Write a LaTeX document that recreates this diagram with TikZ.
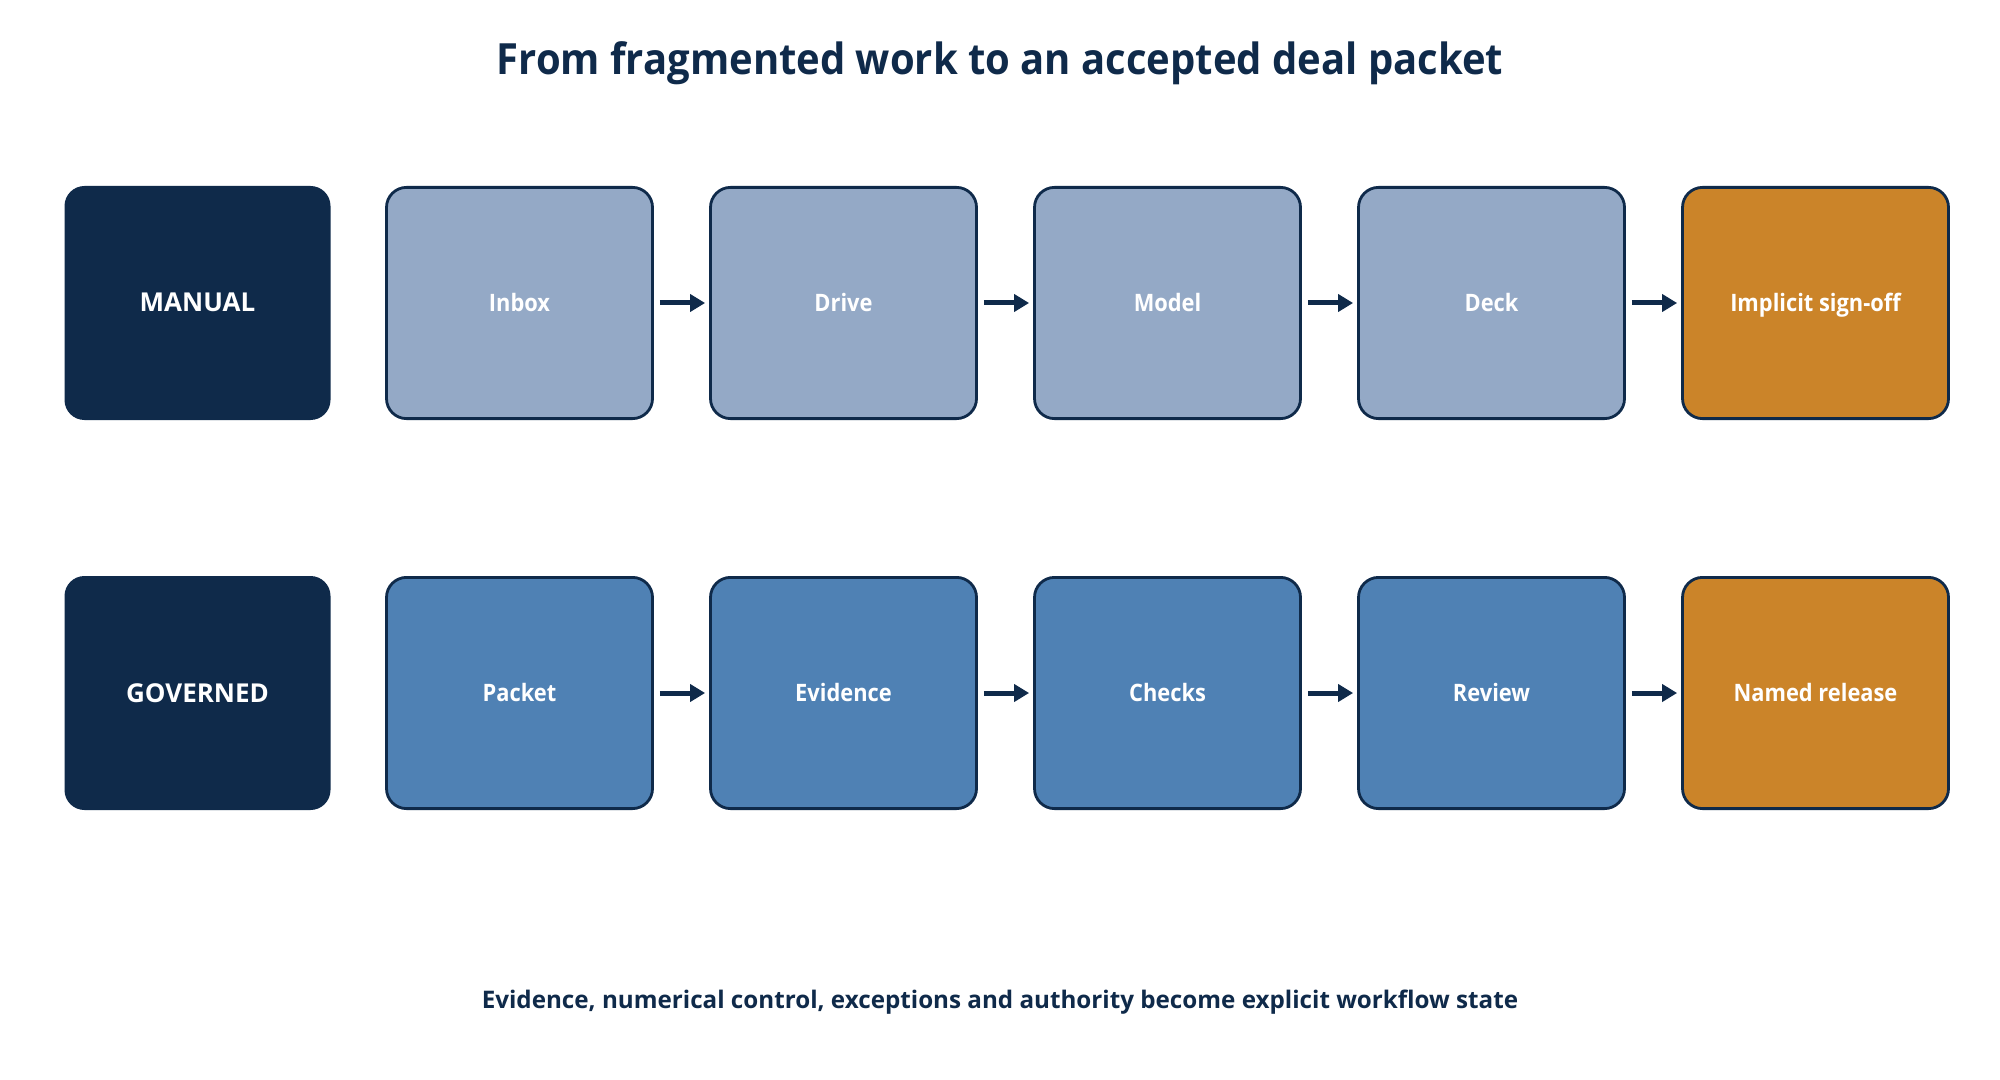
\documentclass[tikz,border=0pt]{standalone}
\usepackage{fontspec}
\setmainfont{Open Sans}
\newfontfamily\titlefont{Open Sans}[FakeStretch=0.93]
\newfontfamily\stepfont{Open Sans}[FakeStretch=0.91]
\usetikzlibrary{arrows.meta}
\definecolor{navy}{HTML}{0F2A4A}
\definecolor{lightbox}{HTML}{94A9C6}
\definecolor{midbox}{HTML}{4F81B4}
\definecolor{orangebox}{HTML}{CB8429}
\tikzset{
  rowlabel/.style={rectangle, rounded corners=10pt, fill=navy, draw=none,
    minimum width=133pt, minimum height=117pt, inner sep=0pt, outer sep=0pt,
    text=white, font=\fontsize{13pt}{15pt}\selectfont\bfseries,
    text height=9pt, text depth=0pt},
  stepbox/.style={rectangle, rounded corners=10pt, draw=navy, line width=1.4pt,
    minimum width=133pt, minimum height=115.6pt, inner sep=0pt,
    text=white, font=\stepfont\fontsize{12pt}{14pt}\selectfont\bfseries,
    text height=8.5pt, text depth=0pt},
  manualbox/.style={stepbox, fill=lightbox},
  govbox/.style={stepbox, fill=midbox},
  finalbox/.style={stepbox, fill=orangebox},
  flow/.style={draw=navy, line width=2.5pt, shorten <=3pt, shorten >=2pt,
    -{Triangle[length=7.5pt, width=8.5pt]}},
}
\begin{document}
\begin{tikzpicture}[x=0.5pt, y=-0.5pt]
  \useasboundingbox (0,0) rectangle (2000,1080);
  \fill[white] (0,0) rectangle (2000,1080);
  \node[anchor=base, text=navy, font=\titlefont\fontsize{21.5pt}{25pt}\selectfont\bfseries] (title) at (1000,75) {From fragmented work to an accepted deal packet};
  % manual row
  \node[rowlabel] (manual) at (197.5,303) {MANUAL};
  \node[manualbox] (m1) at (519.5,303) {Inbox};
  \node[manualbox] (m2) at (843.5,303) {Drive};
  \node[manualbox] (m3) at (1167.5,303) {Model};
  \node[manualbox] (m4) at (1491.5,303) {Deck};
  \node[finalbox] (m5) at (1815.5,303) {Implicit sign-off};
  % governed row
  \node[rowlabel] (governed) at (197.5,693) {GOVERNED};
  \node[govbox] (g1) at (519.5,693) {Packet};
  \node[govbox] (g2) at (843.5,693) {Evidence};
  \node[govbox] (g3) at (1167.5,693) {Checks};
  \node[govbox] (g4) at (1491.5,693) {Review};
  \node[finalbox] (g5) at (1815.5,693) {Named release};
  \draw[flow] (m1.east) -- (m2.west);
  \draw[flow] (m2.east) -- (m3.west);
  \draw[flow] (m3.east) -- (m4.west);
  \draw[flow] (m4.east) -- (m5.west);
  \draw[flow] (g1.east) -- (g2.west);
  \draw[flow] (g2.east) -- (g3.west);
  \draw[flow] (g3.east) -- (g4.west);
  \draw[flow] (g4.east) -- (g5.west);
  \node[anchor=base, text=navy, font=\fontsize{12.1pt}{14pt}\selectfont\bfseries] (footer) at (1000,1008) {Evidence, numerical control, exceptions and authority become explicit workflow state};
\end{tikzpicture}
\end{document}
